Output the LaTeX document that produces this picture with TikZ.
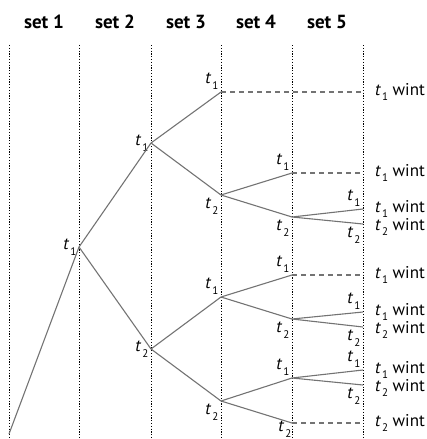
\documentclass[tikz,border=0pt]{standalone}
\usepackage{fontspec}
\setmainfont{PT Sans}
\tikzstyle{branch}=[draw=black!55, line width=1.1pt]
\tikzstyle{tie}=[branch, dash pattern=on 5pt off 4pt]
\tikzstyle{guide}=[draw=black, line width=0.9pt, dash pattern=on 1.2pt off 1.6pt]
\tikzstyle{header}=[font=\fontsize{19}{21}\selectfont\bfseries]
\tikzstyle{tl}=[font=\fontsize{17}{19}\selectfont, inner sep=2.5pt]
\tikzstyle{wl}=[tl, inner sep=1pt, xshift=11pt]
\tikzstyle{wlow}=[wl, yshift=-3pt]
\newcommand{\tsub}[1]{\textit{t}\kern1pt\raisebox{-0.7ex}{\fontsize{11}{11}\selectfont #1}}
\newcommand{\tone}{\tsub{1}}
\newcommand{\ttwo}{\tsub{2}}

\begin{document}
\begin{tikzpicture}[x=1pt, y=-1pt]
    \useasboundingbox (0,0) rectangle (427,439);
    % set headers
    \node[header] (s1) at (44,22) {set 1};
    \node[header] (s2) at (115,22) {set 2};
    \node[header] (s3) at (186,22) {set 3};
    \node[header] (s4) at (256,22) {set 4};
    \node[header] (s5) at (327,22) {set 5};
    \foreach \x in {9,79,151,221,292,363}
        \draw[guide] (\x,45) -- (\x,439);
    % tree points
    \coordinate (r) at (9,434);
    \coordinate[label={[tl]left:\tone}] (a) at (79,247);
    \coordinate[label={[tl]left:\tone}] (b1) at (151,143);
    \coordinate[label={[tl]left:\ttwo}] (b2) at (151,349);
    \coordinate[label={[tl]above left:\tone}] (c1) at (221,92);
    \coordinate[label={[tl]below left:\ttwo}] (c2) at (221,195);
    \coordinate[label={[tl]above left:\tone}] (c3) at (221,297);
    \coordinate[label={[tl]below left:\ttwo}] (c4) at (221,401);
    \coordinate[label={[tl]above left:\tone}] (d1) at (292,173);
    \coordinate[label={[tl]below left:\ttwo}] (d2) at (292,217);
    \coordinate[label={[tl]above left:\tone}] (d3) at (292,275);
    \coordinate[label={[tl]below left:\ttwo}] (d4) at (292,319);
    \coordinate[label={[tl]above left:\tone}] (d5) at (292,378);
    \coordinate[label={[tl, inner sep=0.5pt, yshift=3pt]below left:\ttwo}] (d6) at (292,423);
    \coordinate[label={[tl]above left:\tone}, label={[wl]right:\tone\ wint}] (e1) at (363,209);
    \coordinate[label={[tl]below left:\ttwo}, label={[wlow]right:\ttwo\ wint}] (e2) at (363,224);
    \coordinate[label={[tl]above left:\tone}, label={[wl]right:\tone\ wint}] (e3) at (363,312);
    \coordinate[label={[tl]below left:\ttwo}, label={[wlow]right:\ttwo\ wint}] (e4) at (363,327);
    \coordinate[label={[tl]above left:\tone}, label={[wl]right:\tone\ wint}] (e5) at (363,370);
    \coordinate[label={[tl]below left:\ttwo}, label={[wlow]right:\ttwo\ wint}] (e6) at (363,385);
    \coordinate[label={[wl]right:\tone\ wint}] (f1) at (363,92);
    \coordinate[label={[wl]right:\tone\ wint}] (f2) at (363,173);
    \coordinate[label={[wl]right:\tone\ wint}] (f3) at (363,275);
    \coordinate[label={[wl]right:\ttwo\ wint}] (f4) at (363,423);
    % branches
    \draw[branch] (r) -- (a) (a) -- (b1) (a) -- (b2);
    \draw[branch] (b1) -- (c1) (b1) -- (c2) (b2) -- (c3) (b2) -- (c4);
    \draw[branch] (c2) -- (d1) (c2) -- (d2) (c3) -- (d3) (c3) -- (d4);
    \draw[branch] (c4) -- (d5) (c4) -- (d6);
    \draw[branch] (d2) -- (e1) (d2) -- (e2) (d4) -- (e3) (d4) -- (e4);
    \draw[branch] (d5) -- (e5) (d5) -- (e6);
    \draw[tie] (c1) -- (f1) (d1) -- (f2) (d3) -- (f3) (d6) -- (f4);
\end{tikzpicture}
\end{document}
